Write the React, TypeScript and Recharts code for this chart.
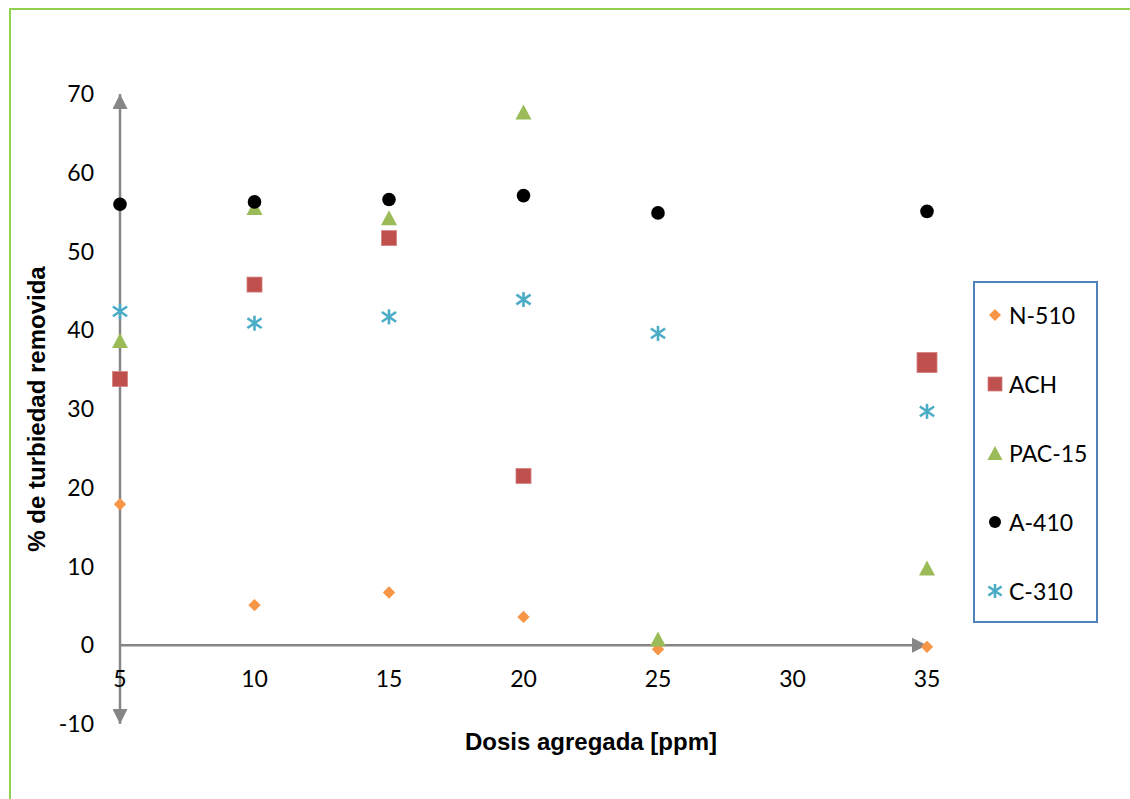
import React from "react";
import { ScatterChart, Scatter, XAxis, YAxis, ReferenceLine } from "recharts";

// dose in ppm (x) and % turbidity removed per coagulant (y)
const doses = [5, 10, 15, 20, 25, 35];
const xTicks = [5, 10, 15, 20, 25, 30, 35];
const yTicks = [-10, 0, 10, 20, 30, 40, 50, 60, 70];

const n510 = [17.9, 5.1, 6.7, 3.6, -0.5, -0.2];
const ach = [33.8, 45.8, 51.7, 21.5, null, 35.9];
const pac15 = [38.7, 55.6, 54.3, 67.7, 0.8, 9.8];
const a410 = [56.0, 56.3, 56.6, 57.1, 54.9, 55.1];
const c310 = [42.4, 40.9, 41.7, 43.9, 39.6, 29.7];

const seriesNames = ["N-510", "ACH", "PAC-15", "A-410", "C-310"];

const toPoints = (vals: (number | null)[]) =>
  doses
    .map((x, i) => ({ x, y: vals[i] }))
    .filter((p) => p.y !== null);

const AXIS = "#868686";
const FONT = "Lato, 'Open Sans', sans-serif";
const TITLE_FONT = "'Liberation Sans', Arial, sans-serif";

const Diamond = ({ cx, cy, r = 6.2 }: any) => (
  <path
    d={`M${cx},${cy - r}L${cx + r},${cy}L${cx},${cy + r}L${cx - r},${cy}Z`}
    fill="#F79646"
  />
);

const Square = ({ cx, cy, s = 15 }: any) => (
  <rect
    x={cx - s / 2}
    y={cy - s / 2}
    width={s}
    height={s}
    fill="#C0504D"
    stroke="#D38381"
    strokeWidth={0.8}
  />
);

const Triangle = ({ cx, cy, w = 16, h = 15 }: any) => (
  <path
    d={`M${cx},${cy - h / 2}L${cx + w / 2},${cy + h / 2}L${cx - w / 2},${cy + h / 2}Z`}
    fill="#9BBB59"
  />
);

const Dot = ({ cx, cy, r = 6.8 }: any) => (
  <circle cx={cx} cy={cy} r={r} fill="#000" />
);

// Excel-style star: vertical bar crossed by an X
const Star = ({ cx, cy, a = 7.5 }: any) => (
  <g stroke="#4BACC6" strokeWidth={2.6}>
    <line x1={cx} y1={cy - a} x2={cx} y2={cy + a} />
    <line x1={cx - a * 0.95} y1={cy - a * 0.65} x2={cx + a * 0.95} y2={cy + a * 0.65} />
    <line x1={cx - a * 0.95} y1={cy + a * 0.65} x2={cx + a * 0.95} y2={cy - a * 0.65} />
  </g>
);

const legendIcons = [
  <Diamond cx={8} cy={8} r={6} />,
  <Square cx={8} cy={8} s={14} />,
  <Triangle cx={8} cy={8} w={15} h={14} />,
  <Dot cx={8} cy={8} r={6} />,
  <Star cx={8} cy={8} a={7} />,
];

const LegendBox = () => (
  <div
    style={{
      position: "absolute",
      left: 973,
      top: 281,
      width: 125,
      height: 342,
      boxSizing: "border-box",
      border: "2px solid #4F81BD",
      background: "#fff",
    }}
  >
    {seriesNames.map((name, i) => (
      <div
        key={name}
        style={{
          position: "absolute",
          left: 12,
          top: 32 + i * 69 - 15,
          height: 30,
          display: "flex",
          alignItems: "center",
          fontFamily: FONT,
          fontSize: 23,
          color: "#000",
          whiteSpace: "nowrap",
        }}
      >
        <svg width={16} height={16} style={{ marginRight: 6 }}>
          {legendIcons[i]}
        </svg>
        {name}
      </div>
    ))}
  </div>
);

const axisLine = (p: any) => (
  <line
    x1={p.x1}
    y1={p.y1}
    x2={p.x2}
    y2={p.y2}
    stroke={AXIS}
    strokeWidth={2.5}
    markerStart={p.x1 === p.x2 ? "url(#axisArrow)" : undefined}
    markerEnd="url(#axisArrow)"
  />
);

export default function App() {
  return (
    <div
      style={{
        position: "absolute",
        left: 0,
        top: 0,
        width: 1130,
        height: 799,
        background: "#fff",
        overflow: "hidden",
      }}
    >
      <svg width={0} height={0} style={{ position: "absolute" }}>
        <defs>
          <marker
            id="axisArrow"
            viewBox="0 0 10 10"
            refX={10}
            refY={5}
            markerUnits="userSpaceOnUse"
            markerWidth={15}
            markerHeight={15}
            orient="auto-start-reverse"
          >
            <path d="M0,0L10,5L0,10Z" fill={AXIS} />
          </marker>
        </defs>
      </svg>
      <div
        style={{
          position: "absolute",
          left: 9,
          top: 8,
          right: 0,
          bottom: 0,
          borderLeft: "2px solid #92D050",
          borderTop: "2px solid #92D050",
        }}
      />
      <div style={{ position: "absolute", left: 0, top: 0 }}>
        <ScatterChart
          width={1130}
          height={799}
          margin={{ top: 94, right: 203, bottom: 45, left: 0 }}
        >
          <XAxis
            dataKey="x"
            type="number"
            domain={[5, 35]}
            ticks={xTicks}
            height={30}
            axisLine={false}
            tickLine={false}
            tickSize={0}
            tick={(p: any) => (
              <text
                x={p.x}
                y={p.y - 55}
                dy="0.71em"
                textAnchor="middle"
                fontFamily={FONT}
                fontSize={23}
                fill="#000"
              >
                {p.payload.value}
              </text>
            )}
            label={() => (
              <text
                x={591}
                y={750}
                textAnchor="middle"
                fontFamily={TITLE_FONT}
                fontWeight="bold"
                fontSize={24}
                fill="#000"
              >
                Dosis agregada [ppm]
              </text>
            )}
          />
          <YAxis
            dataKey="y"
            type="number"
            domain={[-10, 70]}
            ticks={yTicks}
            width={120}
            axisLine={false}
            tickLine={false}
            tickSize={0}
            tickMargin={26}
            tick={{ fontFamily: FONT, fontSize: 23, fill: "#000" }}
            label={() => (
              <text
                x={45}
                y={409}
                transform="rotate(-90 45 409)"
                textAnchor="middle"
                fontFamily={TITLE_FONT}
                fontWeight="bold"
                fontSize={24}
                fill="#000"
              >
                % de turbiedad removida
              </text>
            )}
          />
          <ReferenceLine
            segment={[
              { x: 5, y: -10 },
              { x: 5, y: 70 },
            ]}
            shape={axisLine}
          />
          <ReferenceLine
            segment={[
              { x: 5, y: 0 },
              { x: 35, y: 0 },
            ]}
            shape={axisLine}
          />
          <Scatter
            name="N-510"
            data={toPoints(n510)}
            isAnimationActive={false}
            shape={(p: any) => <Diamond cx={p.cx} cy={p.cy} />}
          />
          <Scatter
            name="ACH"
            data={toPoints(ach)}
            isAnimationActive={false}
            shape={(p: any) => (
              <Square cx={p.cx} cy={p.cy} s={p.payload.x === 35 ? 20 : 15} />
            )}
          />
          <Scatter
            name="PAC-15"
            data={toPoints(pac15)}
            isAnimationActive={false}
            shape={(p: any) => <Triangle cx={p.cx} cy={p.cy} />}
          />
          <Scatter
            name="A-410"
            data={toPoints(a410)}
            isAnimationActive={false}
            shape={(p: any) => <Dot cx={p.cx} cy={p.cy} />}
          />
          <Scatter
            name="C-310"
            data={toPoints(c310)}
            isAnimationActive={false}
            shape={(p: any) => <Star cx={p.cx} cy={p.cy} />}
          />
        </ScatterChart>
      </div>
      <LegendBox />
    </div>
  );
}
